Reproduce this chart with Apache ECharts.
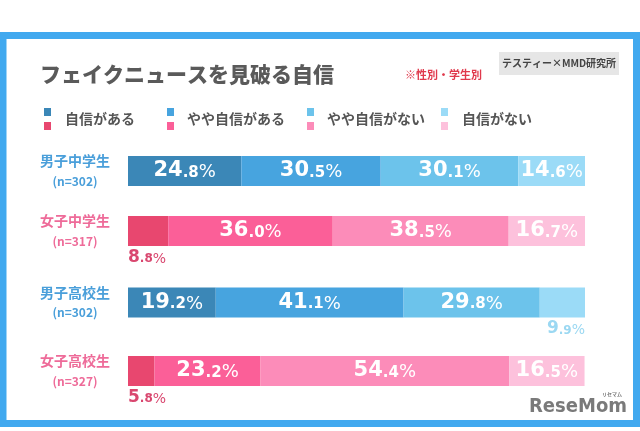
<!DOCTYPE html>
<html><head><meta charset="utf-8">
<script src="https://cdn.jsdelivr.net/npm/echarts@6/dist/echarts.min.js"></script>
<style>html,body{margin:0;padding:0;background:#fff}#c{width:640px;height:431px}</style>
</head><body><div id="c"></div>
<script>
const categories = ['男子中学生', '女子中学生', '男子高校生', '女子高校生'];
const sampleSizes = ['(n=302)', '(n=317)', '(n=302)', '(n=327)'];
const seriesNames = ['自信がある', 'やや自信がある', 'やや自信がない', '自信がない'];
const confident = [24.8, 8.8, 19.2, 5.8];
const somewhatConfident = [30.5, 36.0, 41.1, 23.2];
const somewhatNotConfident = [30.1, 38.5, 29.8, 54.4];
const notConfident = [14.6, 16.7, 9.9, 16.5];
const seriesValues = [confident, somewhatConfident, somewhatNotConfident, notConfident];
const rowIsMale = [true, false, true, false];

const blueShades = ['#3b87b7', '#47a4df', '#6cc3eb', '#9bdbf7'];
const pinkShades = ['#e8476f', '#fb5f98', '#fc8cb9', '#fdc1dc'];
const outsideColors = { blue: '#9bd8f2', pink: '#d9476f' };
const rowTops = [156, 216, 287.5, 356];

const numFont = 'DejaVu Sans';
function valueFmt(p) {
  const s = p.value.toFixed(1).split('.');
  return '{i|' + s[0] + '}{d|.' + s[1] + '}{p|%}';
}
function richFor(color, big) {
  const a = big ? 21 : 17, b = big ? 15 : 12, c = big ? 18 : 14;
  return {
    i: { fontFamily: numFont, fontWeight: 'bold', fontSize: a, lineHeight: a, height: a, verticalAlign: 'bottom', color: color },
    d: { fontFamily: numFont, fontWeight: 'bold', fontSize: b, lineHeight: b, height: b, verticalAlign: 'bottom', color: color, padding: [0, 0, 1, 0] },
    p: { fontFamily: numFont, fontWeight: 'normal', fontSize: c, lineHeight: c, height: c, verticalAlign: 'bottom', color: color }
  };
}

const grids = [], xAxes = [], yAxes = [], series = [];
categories.forEach((cat, g) => {
  const male = rowIsMale[g];
  const shades = male ? blueShades : pinkShades;
  const labelColor = male ? '#4a9fda' : '#ee6b99';
  grids.push({ left: 128, width: 457, top: rowTops[g], height: 30 });
  xAxes.push({ gridIndex: g, type: 'value', min: 0, max: 100, show: false });
  yAxes.push({
    gridIndex: g, type: 'category', data: [cat],
    axisLine: { show: false }, axisTick: { show: false },
    axisLabel: {
      margin: 53, align: 'center',
      formatter: () => '{n|' + cat + '}\n{s|' + sampleSizes[g] + '}',
      rich: {
        n: { fontFamily: 'Noto Sans CJK JP', fontWeight: 'bold', fontSize: 14, lineHeight: 20, color: labelColor },
        s: { fontFamily: 'Noto Sans CJK JP', fontWeight: 'bold', fontSize: 12, lineHeight: 20, color: labelColor }
      }
    }
  });
  seriesValues.forEach((vals, s) => {
    const v = vals[g];
    const small = v < 10;
    let label;
    if (small) {
      const col = male ? outsideColors.blue : outsideColors.pink;
      label = {
        show: true,
        position: s === 0 ? ['0%', '100%'] : ['100%', '100%'],
        align: s === 0 ? 'left' : 'right',
        verticalAlign: 'top',
        offset: [0, 3],
        formatter: valueFmt,
        rich: richFor(col, false)
      };
    } else {
      label = { show: true, position: 'inside', formatter: valueFmt, rich: richFor('#ffffff', true) };
    }
    series.push({
      type: 'bar', name: seriesNames[s], xAxisIndex: g, yAxisIndex: g, stack: 'row' + g,
      barWidth: '100%', data: [v], itemStyle: { color: shades[s] }, label: label,
      silent: true, animation: false
    });
  });
});

const legendSquareX = [44, 167, 307, 441];
const legendTextX = [65, 187, 327, 462];
const graphic = [
  { type: 'rect', shape: { x: 3, y: 35.5, width: 633.5, height: 388 }, style: { fill: 'none', stroke: '#41a9ef', lineWidth: 7 } },
  { type: 'text', left: 40, top: 64, style: { text: 'フェイクニュースを見破る自信', font: '900 21px "Noto Sans CJK JP"', fill: '#5a5a5a' } },
  { type: 'text', left: 405, top: 69, style: { text: '※性別・学生別', font: 'bold 11px "Noto Sans CJK JP"', fill: '#e0394c' } },
  { type: 'rect', shape: { x: 499, y: 52, width: 120, height: 23 }, style: { fill: '#e6e6e6' } },
  { type: 'text', x: 559, y: 63.5, style: { text: 'テスティー×MMD研究所', font: 'bold 10px "Noto Sans CJK JP"', fill: '#444', align: 'center', verticalAlign: 'middle' } },
  { type: 'text', x: 627, y: 407, style: { text: 'ReseMom', font: 'bold 20px "DejaVu Sans Condensed"', fill: '#7a7a7a', align: 'right', verticalAlign: 'middle' } },
  { type: 'text', x: 612, y: 394, style: { text: 'リセマム', font: 'bold 5px "Noto Sans CJK JP"', fill: '#7a7a7a', align: 'center', verticalAlign: 'middle' } }
];
seriesNames.forEach((n, i) => {
  graphic.push({ type: 'rect', shape: { x: legendSquareX[i], y: 108, width: 7, height: 8 }, style: { fill: blueShades[i] } });
  graphic.push({ type: 'rect', shape: { x: legendSquareX[i], y: 122, width: 7, height: 8 }, style: { fill: pinkShades[i] } });
  graphic.push({ type: 'text', x: legendTextX[i], y: 119, style: { text: n, font: 'bold 14px "Noto Sans CJK JP"', fill: '#555', verticalAlign: 'middle' } });
});

const chart = echarts.init(document.getElementById('c'), null, { renderer: 'canvas' });
chart.setOption({
  animation: false,
  backgroundColor: '#ffffff',
  grid: grids, xAxis: xAxes, yAxis: yAxes, series: series, graphic: graphic
});
</script>
</body></html>
